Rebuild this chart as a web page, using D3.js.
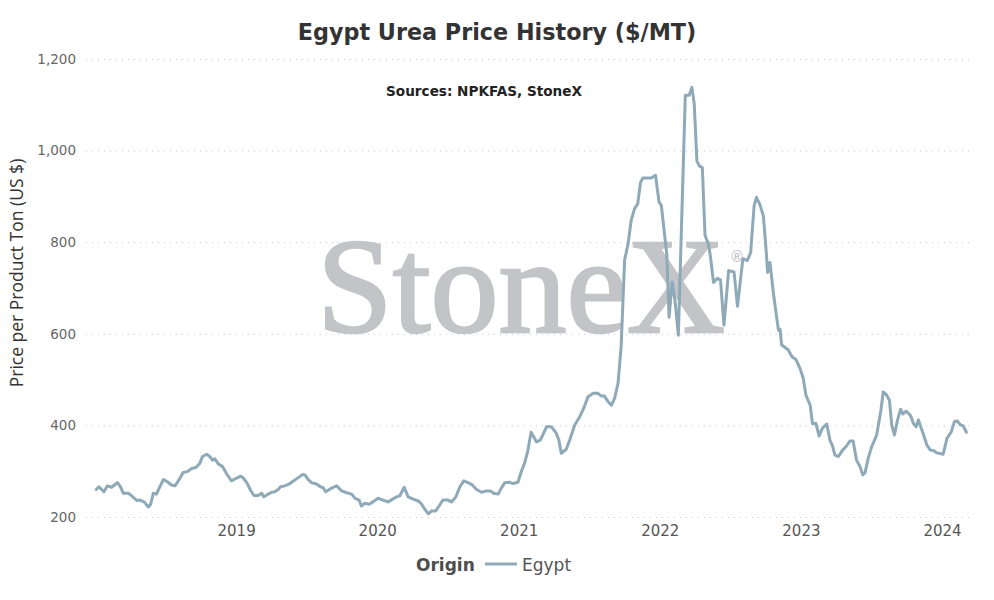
<!DOCTYPE html>
<html>
<head>
<meta charset="utf-8">
<script src="https://cdn.jsdelivr.net/npm/d3@7"></script>
<style>
  body { margin: 0; background: #fff; }
  svg { display: block; font-family: 'DejaVu Sans', Verdana, sans-serif; }
</style>
</head>
<body>
<div id="chart"></div>
<script>
// weekly-ish readings of the Egypt granular urea price, $/MT
const dates = [
  '2018-01-04','2018-01-11','2018-01-24','2018-02-02','2018-02-13','2018-02-28','2018-03-08','2018-03-15',
  '2018-03-28','2018-04-06','2018-04-19','2018-04-27','2018-05-08','2018-05-19','2018-05-25','2018-06-01',
  '2018-06-09','2018-06-16','2018-06-27','2018-07-07','2018-07-18','2018-07-27','2018-08-07','2018-08-17',
  '2018-08-28','2018-09-08','2018-09-19','2018-09-29','2018-10-06','2018-10-17','2018-10-25','2018-11-01',
  '2018-11-07','2018-11-16','2018-11-27','2018-12-07','2018-12-20','2018-12-31',
  '2019-01-13','2019-01-21','2019-01-30','2019-02-07','2019-02-16','2019-02-27','2019-03-08','2019-03-14',
  '2019-03-25','2019-04-03','2019-04-11','2019-04-20','2019-04-26','2019-05-07','2019-05-20','2019-05-30',
  '2019-06-11','2019-06-22','2019-06-28','2019-07-06','2019-07-15','2019-07-28','2019-08-07','2019-08-14',
  '2019-08-21','2019-08-30','2019-09-05','2019-09-18','2019-10-01','2019-10-14','2019-10-27','2019-11-04',
  '2019-11-15','2019-11-21','2019-11-30','2019-12-11','2019-12-21',
  '2020-01-03','2020-01-16','2020-01-29','2020-02-10','2020-02-20','2020-02-28','2020-03-11','2020-03-21',
  '2020-04-03','2020-04-16','2020-04-25','2020-05-03','2020-05-12','2020-05-20','2020-05-31','2020-06-09',
  '2020-06-19','2020-07-02','2020-07-11','2020-07-22','2020-08-02','2020-08-12','2020-08-23','2020-09-03',
  '2020-09-14','2020-09-27','2020-10-10','2020-10-20','2020-10-28','2020-11-09','2020-11-17','2020-11-26',
  '2020-12-07','2020-12-17','2020-12-30',
  '2021-01-08','2021-01-16','2021-01-24','2021-02-02','2021-02-11','2021-02-16','2021-02-26','2021-03-14',
  '2021-03-27','2021-04-08','2021-04-15','2021-04-21','2021-05-04','2021-05-13','2021-05-26','2021-06-08',
  '2021-06-18','2021-06-29','2021-07-12','2021-07-25','2021-08-03','2021-08-11','2021-08-20','2021-08-29',
  '2021-09-06','2021-09-15','2021-09-23','2021-10-02','2021-10-11','2021-10-19','2021-10-28','2021-11-05',
  '2021-11-12','2021-11-18','2021-12-10','2021-12-21','2021-12-30',
  '2022-01-05','2022-01-13','2022-01-19','2022-01-25','2022-02-02','2022-02-09','2022-02-18','2022-03-08',
  '2022-03-18','2022-03-25','2022-03-31','2022-04-07','2022-04-14','2022-04-21','2022-04-28','2022-05-07',
  '2022-05-11','2022-05-20','2022-05-30','2022-06-07','2022-06-16','2022-06-28','2022-07-12','2022-07-21',
  '2022-08-04','2022-08-15','2022-08-24','2022-09-02','2022-09-08','2022-09-17','2022-09-26','2022-10-03',
  '2022-10-07','2022-10-13','2022-10-22','2022-10-29','2022-11-04','2022-11-08','2022-11-12','2022-11-21',
  '2022-11-29','2022-12-09','2022-12-19','2022-12-30',
  '2023-01-07','2023-01-14','2023-01-25','2023-01-31','2023-02-09','2023-02-17','2023-02-26','2023-03-09',
  '2023-03-17','2023-03-24','2023-03-30','2023-04-08','2023-04-19','2023-04-29','2023-05-08','2023-05-16',
  '2023-05-25','2023-06-03','2023-06-10','2023-06-16','2023-06-24','2023-07-03','2023-07-16','2023-07-27',
  '2023-08-02','2023-08-11','2023-08-18','2023-08-24','2023-08-31','2023-09-08','2023-09-16','2023-09-22',
  '2023-09-30','2023-10-09','2023-10-13','2023-10-19','2023-10-26','2023-11-01','2023-11-10','2023-11-23',
  '2023-12-02','2023-12-10','2023-12-19',
  '2024-01-04','2024-01-14','2024-01-25','2024-02-02','2024-02-09','2024-02-18','2024-02-25','2024-03-04'
]
const prices = [
  260,266,255,268,265,275,266,252,
  252,246,236,237,233,222,228,252,
  250,263,282,277,270,268,282,297,
  299,306,308,317,332,337,332,324,
  327,316,310,295,279,284,
  289,284,273,259,247,247,252,244,
  250,254,255,260,266,268,273,279,
  286,293,292,282,275,272,266,264,
  255,260,263,268,257,253,250,241,
  237,224,230,228,233,
  241,237,233,239,244,246,265,244,
  239,235,228,217,207,213,213,224,
  237,237,233,243,266,279,275,270,
  260,254,257,257,252,250,263,275,
  276,273,276,
  300,317,342,385,372,364,368,397,
  397,383,368,339,348,368,401,419,
  437,462,470,470,464,464,452,444,
  459,492,572,761,797,848,874,884,
  930,940,940,946,888,
  880,819,775,636,713,675,597,1121,
  1121,1138,1103,977,966,963,815,795,
  775,712,721,718,619,738,735,660,
  764,760,777,880,898,882,857,783,
  734,756,688,644,608,610,576,570,
  565,550,544,524,
  503,466,444,404,404,377,394,403,
  368,355,335,332,346,355,366,366,
  324,310,292,297,328,353,379,433,
  473,466,455,401,379,412,435,425,
  431,424,419,404,397,412,390,357,
  346,345,340,
  337,372,386,408,410,401,399,385
]
const yTicks = [200, 400, 600, 800, 1000, 1200]
const xTickYears = [2019, 2020, 2021, 2022, 2023, 2024]

const width = 994, height = 600
const plotLeft = 86, plotRight = 973
const lineColor = '#8ea9b8'
const parse = d3.utcParse('%Y-%m-%d')
const series = dates.map((d, i) => ({date: parse(d), value: prices[i]}))

const svg = d3.select('#chart').append('svg')
  .attr('width', width)
  .attr('height', height)

const x = d3.scaleUtc()
  .domain([new Date(Date.UTC(2018, 0, 1)), new Date(Date.UTC(2024, 0, 1))])
  .range([95, 942])
const y = d3.scaleLinear()
  .domain([200, 1200])
  .range([517, 59])

// dotted horizontal grid
svg.append('g')
  .selectAll('line')
  .data(yTicks)
  .enter().append('line')
  .attr('x1', plotLeft)
  .attr('x2', plotRight)
  .attr('y1', d => y(d) + 0.5)
  .attr('y2', d => y(d) + 0.5)
  .attr('stroke', '#c8c8c8')
  .attr('stroke-width', 1)
  .attr('stroke-dasharray', '1,5')

// watermark
const mark = svg.append('g').attr('fill', '#c3c4c7')
mark.append('text')
  .attr('x', 317)
  .attr('y', 332)
  .attr('stroke', '#c3c4c7')
  .attr('stroke-width', 2.5)
  .style('font-family', "'Liberation Serif', 'Times New Roman', serif")
  .style('font-size', '136px')
  .text('StoneX')
mark.append('text')
  .attr('x', 737)
  .attr('y', 262)
  .attr('text-anchor', 'middle')
  .style('font-size', '15px')
  .text('®')

// y axis labels
const yAxis = svg.append('g')
  .attr('transform', `translate(76,0)`)
  .call(d3.axisLeft(y).tickValues(yTicks).tickSize(0).tickPadding(0).tickFormat(d3.format(',')))
yAxis.select('.domain').remove()
yAxis.selectAll('text')
  .attr('fill', '#666')
  .style('font-size', '13.5px')
  .style('font-family', "'DejaVu Sans', Verdana, sans-serif")

// x axis labels
const xAxis = svg.append('g')
  .attr('transform', `translate(0,522)`)
  .call(d3.axisBottom(x)
    .tickValues(xTickYears.map(yr => new Date(Date.UTC(yr, 0, 1))))
    .tickSize(0).tickPadding(3)
    .tickFormat(d3.utcFormat('%Y')))
xAxis.select('.domain').remove()
xAxis.selectAll('text')
  .attr('fill', '#555')
  .style('font-size', '15px')
  .style('font-family', "'DejaVu Sans', Verdana, sans-serif")

// price line
const line = d3.line()
  .x(d => x(d.date))
  .y(d => y(d.value))
svg.append('path')
  .datum(series)
  .attr('d', line)
  .attr('fill', 'none')
  .attr('stroke', lineColor)
  .attr('stroke-width', 3)
  .attr('stroke-linejoin', 'round')
  .attr('stroke-linecap', 'round')

// titles
svg.append('text')
  .attr('x', 497)
  .attr('y', 40)
  .attr('text-anchor', 'middle')
  .attr('fill', '#333')
  .style('font-size', '22.3px')
  .style('font-weight', 'bold')
  .text('Egypt Urea Price History ($/MT)')
svg.append('text')
  .attr('x', 484)
  .attr('y', 96)
  .attr('text-anchor', 'middle')
  .attr('fill', '#222')
  .style('font-size', '13.6px')
  .style('font-weight', 'bold')
  .text('Sources: NPKFAS, StoneX')
svg.append('text')
  .attr('transform', 'translate(23,273) rotate(-90)')
  .attr('text-anchor', 'middle')
  .attr('fill', '#333')
  .style('font-family', "'Open Sans', sans-serif")
  .style('font-size', '17.5px')
  .text('Price per Product Ton (US $)')

// legend
const legend = svg.append('g')
legend.append('text')
  .attr('x', 416)
  .attr('y', 571)
  .attr('fill', '#4d4d4d')
  .style('font-size', '17px')
  .style('font-weight', 'bold')
  .text('Origin')
legend.append('line')
  .attr('x1', 485)
  .attr('x2', 517)
  .attr('y1', 564)
  .attr('y2', 564)
  .attr('stroke', lineColor)
  .attr('stroke-width', 3)
legend.append('text')
  .attr('x', 522)
  .attr('y', 571)
  .attr('fill', '#555')
  .style('font-size', '17px')
  .text('Egypt')
</script>
</body>
</html>
